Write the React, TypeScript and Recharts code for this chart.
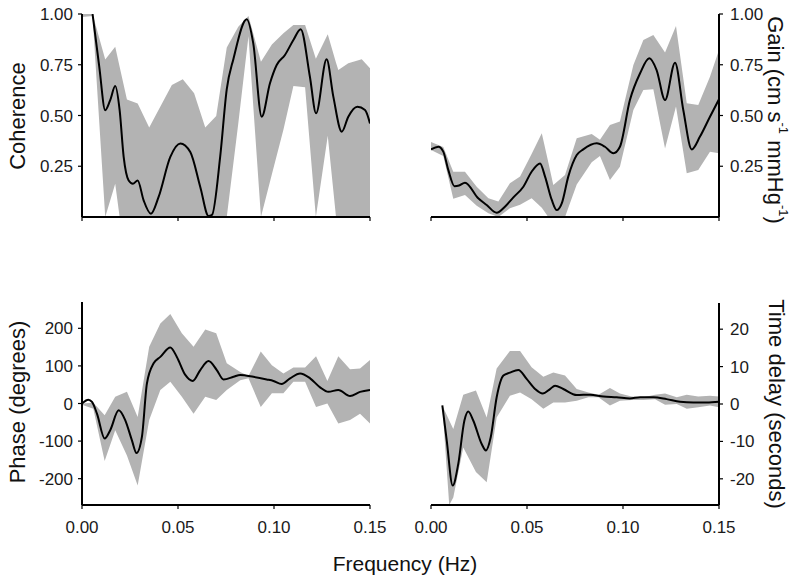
import React from 'react';
import { ComposedChart, Line, Area, XAxis, YAxis } from 'recharts';

const FONT = '"Liberation Sans", Arial, Helvetica, sans-serif';
const BAND_FILL = '#b3b3b3';

// ---------- Coherence (top left) ----------
const cohFreq = [0.0055, 0.009, 0.0121, 0.0147, 0.0173, 0.0196, 0.0217, 0.0243, 0.0265, 0.029, 0.0321, 0.0359, 0.0399, 0.046, 0.0512, 0.0564, 0.0616, 0.0659, 0.0677, 0.072, 0.0754, 0.0789, 0.0858, 0.0892, 0.0936, 0.0979, 0.1014, 0.1057, 0.1101, 0.1139, 0.1187, 0.1219, 0.1274, 0.1309, 0.1353, 0.1387, 0.1434, 0.1474, 0.15];
const cohMean = [1.0, 0.74, 0.526, 0.576, 0.645, 0.526, 0.296, 0.18, 0.164, 0.18, 0.082, 0.016, 0.099, 0.296, 0.362, 0.32, 0.148, 0.005, 0.01, 0.3, 0.63, 0.78, 0.974, 0.855, 0.494, 0.659, 0.749, 0.798, 0.872, 0.925, 0.691, 0.511, 0.777, 0.593, 0.42, 0.494, 0.543, 0.527, 0.461];
const cohBandFreq = [0, 0.0055, 0.0121, 0.0173, 0.0196, 0.0234, 0.029, 0.035, 0.0468, 0.0525, 0.0584, 0.0642, 0.0699, 0.0754, 0.0814, 0.0867, 0.0932, 0.0989, 0.1049, 0.1101, 0.1162, 0.1218, 0.128, 0.1323, 0.1335, 0.1387, 0.1457, 0.15];
const cohHigh = [1.0, 1.0, 0.776, 0.839, 0.74, 0.579, 0.559, 0.441, 0.65, 0.678, 0.609, 0.441, 0.497, 0.835, 0.937, 0.99, 0.765, 0.85, 0.905, 0.946, 0.946, 0.78, 0.9, 0.76, 0.724, 0.757, 0.777, 0.733];
const cohLow = [0.985, 0.99, 0, 0.164, 0, 0, 0, 0, 0, 0, 0, 0, 0, 0, 0.46, 0.89, 0, 0.21, 0.43, 0.645, 0.639, 0, 0.4, 0, 0, 0, 0, 0];

// ---------- Gain (top right) ----------
const gainFreq = [0, 0.0038, 0.0064, 0.009, 0.0122, 0.0146, 0.0177, 0.0246, 0.029, 0.0342, 0.0385, 0.0429, 0.0481, 0.0524, 0.0568, 0.0594, 0.0629, 0.0655, 0.0681, 0.0715, 0.0759, 0.0793, 0.0863, 0.0906, 0.095, 0.0984, 0.1036, 0.1089, 0.1137, 0.1175, 0.1219, 0.1271, 0.1314, 0.1358, 0.1401, 0.1453, 0.15];
const gainMean = [0.333, 0.346, 0.322, 0.232, 0.152, 0.155, 0.169, 0.092, 0.059, 0.021, 0.051, 0.097, 0.149, 0.223, 0.264, 0.199, 0.084, 0.034, 0.067, 0.199, 0.305, 0.333, 0.363, 0.346, 0.314, 0.346, 0.576, 0.708, 0.782, 0.724, 0.576, 0.76, 0.527, 0.333, 0.396, 0.494, 0.58];
const gainBandFreq = [0, 0.0064, 0.0116, 0.0177, 0.0238, 0.0299, 0.0351, 0.0411, 0.0464, 0.0524, 0.0577, 0.0611, 0.0637, 0.0698, 0.0759, 0.0837, 0.088, 0.0932, 0.0984, 0.1054, 0.1106, 0.1158, 0.1219, 0.1276, 0.1332, 0.1392, 0.1453, 0.15];
const gainHigh = [0.37, 0.345, 0.223, 0.223, 0.149, 0.092, 0.076, 0.166, 0.199, 0.31, 0.412, 0.27, 0.158, 0.207, 0.388, 0.409, 0.38, 0.453, 0.47, 0.749, 0.872, 0.897, 0.81, 0.941, 0.56, 0.552, 0.691, 0.823];
const gainLow = [0.33, 0.3, 0.09, 0.108, 0.055, 0.018, 0, 0.043, 0.06, 0.092, 0.045, 0, 0, 0, 0.16, 0.27, 0.3, 0.182, 0.248, 0.527, 0.626, 0.629, 0.338, 0.544, 0.215, 0.232, 0.322, 0.314];

// ---------- Phase (bottom left) ----------
const phFreq = [0, 0.0033, 0.0052, 0.0078, 0.0118, 0.0147, 0.0191, 0.0225, 0.026, 0.0284, 0.0312, 0.0338, 0.0373, 0.0408, 0.046, 0.0494, 0.0538, 0.0577, 0.0616, 0.0659, 0.0702, 0.0737, 0.0789, 0.0824, 0.0893, 0.0962, 0.0997, 0.104, 0.1084, 0.1136, 0.1188, 0.124, 0.1283, 0.1335, 0.1396, 0.1448, 0.15];
const phMean = [0, 10, 4, -27, -93, -71, -18, -44, -98, -132, -89, 53, 107, 124, 149, 124, 76, 60, 89, 113, 89, 64, 71, 76, 71, 64, 60, 52, 67, 80, 67, 43, 31, 36, 20, 31, 36];
const phBandFreq = [0, 0.0059, 0.0118, 0.0173, 0.0234, 0.029, 0.035, 0.0408, 0.046, 0.052, 0.0581, 0.0642, 0.0699, 0.0754, 0.0824, 0.0867, 0.0931, 0.0989, 0.1049, 0.1101, 0.1162, 0.1219, 0.1278, 0.1335, 0.1396, 0.1448, 0.15];
const phHigh = [0, 2, -31, 18, 31, -36, 151, 213, 238, 187, 151, 197, 187, 107, 84, 73, 138, 102, 80, 96, 96, 126, 60, 126, 91, 93, 116];
const phLow = [-3, -14, -153, -71, -138, -218, -44, 36, 58, 18, -27, 18, 9, 36, 62, 67, -9, 27, 27, 58, 58, -9, 0, -53, -44, -27, -53];

// ---------- Time delay (bottom right) ----------
const dlFreq = [0.0059, 0.0082, 0.0113, 0.0142, 0.0174, 0.0194, 0.022, 0.0264, 0.0286, 0.0311, 0.0342, 0.0377, 0.0411, 0.0455, 0.0498, 0.0542, 0.0582, 0.062, 0.0646, 0.0689, 0.0759, 0.0828, 0.0898, 0.0967, 0.1036, 0.1089, 0.1158, 0.1227, 0.1297, 0.1366, 0.1436, 0.15];
const dlMean = [-0.4, -9.8, -21.8, -16, -4.4, -2, -4.4, -10.7, -12.4, -8.9, 1.8, 7.6, 8.4, 9.1, 6.7, 4, 2.8, 4, 4.9, 4, 2.4, 2.5, 2, 1.8, 1.5, 1.8, 1.8, 1.3, 0.6, 0.4, 0.4, 0.6];
const dlBandFreq = [0.0059, 0.0095, 0.0116, 0.0168, 0.0234, 0.029, 0.0342, 0.0411, 0.0464, 0.0524, 0.0585, 0.0637, 0.0698, 0.0759, 0.082, 0.0872, 0.0932, 0.0984, 0.1045, 0.1106, 0.1167, 0.1219, 0.128, 0.1332, 0.1392, 0.1453, 0.15];
const dlHigh = [-0.4, -4.4, -6.7, 2.5, 3.6, -3.6, 9.5, 14.2, 14.2, 9.8, 7.3, 8.4, 7.6, 4, 3.1, 2.5, 4.3, 2.8, 2, 1.8, 2.5, 2.8, 1.8, 2.5, 2, 2.2, 2];
const dlLow = [-0.4, -27, -25, -11.6, -18.2, -20.9, -3.6, 2.2, 3.1, 1.3, -1.3, 0.4, 0.4, 0.9, 1.8, 1.8, -0.4, 0.9, 1.1, 1.1, 1.3, -0.2, 0, -1.3, -0.9, -0.4, -0.9];

// ---------- axis ticks ----------
const freqTicks = [0, 0.05, 0.1, 0.15];
const unitTicks = [0.25, 0.5, 0.75, 1];
const phaseTicks = [-200, -100, 0, 100, 200];
const delayTicks = [-20, -10, 0, 10, 20];

const toLine = (fs: number[], vs: number[]) => fs.map((f, i) => ({ f, v: vs[i] }));
const toBand = (fs: number[], lo: number[], hi: number[]) =>
  fs.map((f, i) => ({ f, range: [lo[i], hi[i]] }));

function AxisTitle(props: any) {
  const { posX, posY, rot, txt, gain } = props;
  return (
    <text
      x={posX}
      y={posY}
      transform={`rotate(${rot} ${posX} ${posY})`}
      textAnchor="middle"
      dominantBaseline="central"
      fontFamily={FONT}
      fontSize={22}
      fill="#111"
    >
      {gain ? (
        <>
          <tspan>Gain (cm s</tspan>
          <tspan dy={-8} fontSize={13}>-1</tspan>
          <tspan dy={8}> mmHg</tspan>
          <tspan dy={-8} fontSize={13}>-1</tspan>
          <tspan dy={8}>)</tspan>
        </>
      ) : (
        txt
      )}
    </text>
  );
}

type PanelProps = {
  left: number;
  top: number;
  height: number;
  margin: { top: number; right: number; bottom: number; left: number };
  side: 'left' | 'right';
  yDomain: [number, number];
  yTicks: number[];
  yFmt: (v: number) => string;
  showX: boolean;
  xHeight: number;
  band: any[];
  line: any[];
  title: React.ReactElement;
};

function Panel(p: PanelProps) {
  return (
    <div style={{ position: 'absolute', left: p.left, top: p.top }}>
      <ComposedChart width={400} height={p.height} margin={p.margin}>
        <XAxis
          dataKey="f"
          type="number"
          domain={[0, 0.15]}
          ticks={freqTicks}
          interval={0}
          allowDataOverflow
          height={p.xHeight}
          tickFormatter={(v: number) => (p.showX ? v.toFixed(2) : '')}
          axisLine={{ stroke: '#000', strokeWidth: 2 }}
          tickLine={{ stroke: '#000', strokeWidth: 1.2 }}
          tickSize={4}
          tickMargin={12}
          tick={{ fontSize: 17, fill: '#1a1a1a', fontFamily: FONT }}
        />
        <YAxis
          type="number"
          orientation={p.side}
          domain={p.yDomain}
          ticks={p.yTicks}
          interval={0}
          allowDataOverflow
          width={p.side === 'left' ? 72 : 70}
          tickFormatter={p.yFmt}
          axisLine={{ stroke: '#000', strokeWidth: 2 }}
          tickLine={{ stroke: '#000', strokeWidth: 1.2 }}
          tickSize={4}
          tickMargin={p.side === 'left' ? 5 : 7}
          tick={{ fontSize: 17, fill: '#1a1a1a', fontFamily: FONT }}
        />
        <Area
          data={p.band}
          dataKey="range"
          type="linear"
          fill={BAND_FILL}
          fillOpacity={1}
          stroke="none"
          isAnimationActive={false}
          activeDot={false}
        />
        <Line
          data={p.line}
          dataKey="v"
          type="monotone"
          stroke="#000"
          strokeWidth={2}
          dot={false}
          activeDot={false}
          isAnimationActive={false}
        />
      </ComposedChart>
      <svg style={{ position: 'absolute', left: 0, top: 0, pointerEvents: 'none' }} width={400} height={p.height}>
        {p.title}
      </svg>
    </div>
  );
}

const fmt2 = (v: number) => v.toFixed(2);
const fmt0 = (v: number) => String(v);

export default function App() {
  return (
    <div style={{ position: 'absolute', left: 0, top: 0, width: 800, height: 582, background: '#fff', overflow: 'hidden' }}>
      <Panel
        left={0}
        top={0}
        height={240}
        margin={{ top: 14, right: 30, bottom: 3, left: 10 }}
        side="left"
        yDomain={[0, 1]}
        yTicks={unitTicks}
        yFmt={fmt2}
        showX={false}
        xHeight={20}
        band={toBand(cohBandFreq, cohLow, cohHigh)}
        line={toLine(cohFreq, cohMean)}
        title={<AxisTitle posX={17} posY={116} rot={-90} txt="Coherence" />}
      />
      <Panel
        left={400}
        top={0}
        height={240}
        margin={{ top: 14, right: 11, bottom: 3, left: 31 }}
        side="right"
        yDomain={[0, 1]}
        yTicks={unitTicks}
        yFmt={fmt2}
        showX={false}
        xHeight={20}
        band={toBand(gainBandFreq, gainLow, gainHigh)}
        line={toLine(gainFreq, gainMean)}
        title={<AxisTitle posX={376} posY={120} rot={90} gain />}
      />
      <Panel
        left={0}
        top={290}
        height={260}
        margin={{ top: 12, right: 30, bottom: 5, left: 10 }}
        side="left"
        yDomain={[-270, 270]}
        yTicks={phaseTicks}
        yFmt={fmt0}
        showX={true}
        xHeight={40}
        band={toBand(phBandFreq, phLow, phHigh)}
        line={toLine(phFreq, phMean)}
        title={<AxisTitle posX={17} posY={112} rot={-90} txt="Phase (degrees)" />}
      />
      <Panel
        left={400}
        top={290}
        height={260}
        margin={{ top: 13, right: 11, bottom: 5, left: 31 }}
        side="right"
        yDomain={[-27, 27]}
        yTicks={delayTicks}
        yFmt={fmt0}
        showX={true}
        xHeight={40}
        band={toBand(dlBandFreq, dlLow, dlHigh)}
        line={toLine(dlFreq, dlMean)}
        title={<AxisTitle posX={376} posY={114} rot={90} txt="Time delay (seconds)" />}
      />
      <svg style={{ position: 'absolute', left: 0, top: 540 }} width={800} height={42}>
        <text x={405} y={23} textAnchor="middle" dominantBaseline="central" fontFamily={FONT} fontSize={21} fill="#111">
          Frequency (Hz)
        </text>
      </svg>
    </div>
  );
}
